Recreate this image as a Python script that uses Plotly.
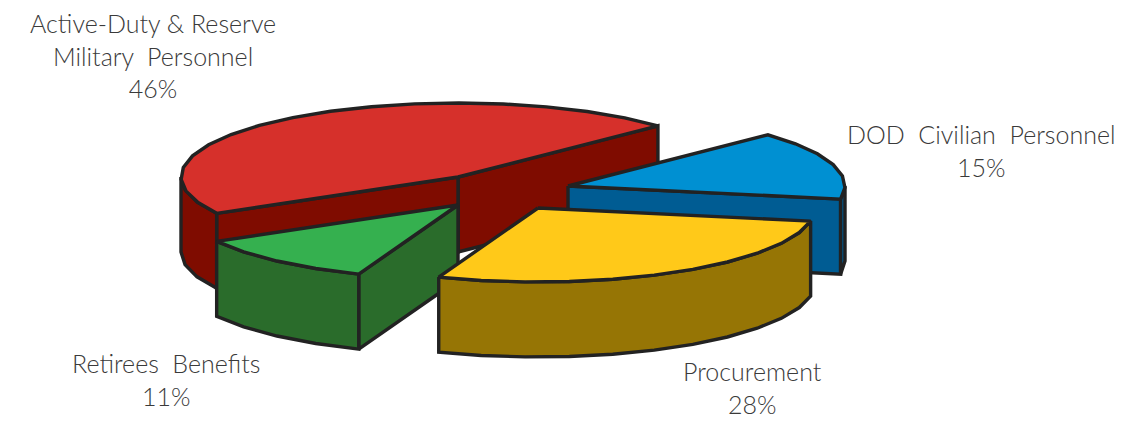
import numpy as np
import plotly.graph_objects as go

# Data
labels = ["Active-Duty\u00a0&amp;\u00a0Reserve<br>Military\u00a0\u00a0Personnel", "DOD\u00a0\u00a0Civilian\u00a0\u00a0Personnel", "Procurement", "Retirees\u00a0\u00a0Benefits"]
values = [46, 15, 28, 11]

# Styles / layout
top_colors = ["#D6302B", "#0090D2", "#FFC919", "#35B04F"]
side_colors = ["#7F0C00", "#005C93", "#967505", "#2A6C2B"]
apexes = [(458, 177), (568, 186), (538, 208), (458, 205)]
label_pos = [(153, 23), (981, 134), (752, 371), (166, 363)]
draw_order = [0, 1, 3, 2]
OUTLINE = "#222222"
RX, RY, DEPTH = 277, 74, 75
START_DEG = 43.8
FACET_DEG = 9

# Slice angular spans from the values, running clockwise from the red slice's right edge
spans = []
for i, v in enumerate(values):
    sweep = v / sum(values) * 360
    if i == 0:
        spans.append((START_DEG, START_DEG + sweep))
        cur = START_DEG
    else:
        spans.append((cur - sweep, cur))
        cur -= sweep


def rim(apex, deg):
    d = np.atleast_1d(np.radians(deg))
    return apex[0] + RX * np.cos(d), apex[1] - RY * np.sin(d)


def arc(apex, lo, hi):
    n = max(2, int(abs(hi - lo) / FACET_DEG) + 1)
    return rim(apex, np.linspace(lo, hi, n))


fig = go.Figure()


def poly(xs, ys, color, name):
    fig.add_trace(go.Scatter(
        x=list(xs), y=list(ys), mode="lines", fill="toself", fillcolor=color,
        line=dict(color=OUTLINE, width=3.4), name=name, hoverinfo="name", showlegend=False,
    ))


for i in draw_order:
    lo, hi = spans[i]
    ap = apexes[i]
    name = labels[i].replace("<br>", " ").replace("&amp;", "&").replace("\u00a0\u00a0", " ").replace("\u00a0", " ")
    # radial cut faces that face the viewer
    for edge, normal in ((lo, lo - 90), (hi, hi + 90)):
        if np.sin(np.radians(normal)) < 0:
            ex, ey = rim(ap, edge)
            poly([ap[0], ex[0], ex[0], ap[0], ap[0]],
                 [ap[1], ey[0], ey[0] + DEPTH, ap[1] + DEPTH, ap[1]],
                 side_colors[i], name)
    # outer wall: the part of the rim in the front half
    for k in (-1, 0, 1):
        a = max(lo, 180 + 360 * k)
        b = min(hi, 360 + 360 * k)
        if b > a:
            ax, ay = arc(ap, a, b)
            poly(np.r_[ax, ax[::-1], ax[0]],
                 np.r_[ay, ay[::-1] + DEPTH, ay[0]],
                 side_colors[i], name)
    # top
    tx, ty = arc(ap, lo, hi)
    poly(np.r_[ap[0], tx, ap[0]], np.r_[ap[1], ty, ap[1]], top_colors[i], name)

for i, (lab, (x, y)) in enumerate(zip(labels, label_pos)):
    txt = lab + f"<br>{values[i]}%"
    fig.add_annotation(x=x, y=y, xref="x", yref="y", text=txt, showarrow=False,
                       xanchor="center", yanchor="top", yshift=17.5,
                       align="center",
                       font=dict(family="Lato", size=25, color="#3a3a3a", weight=300))

fig.update_xaxes(range=[0, 1147], visible=False, fixedrange=True)
fig.update_yaxes(range=[421, 0], visible=False, fixedrange=True)
fig.update_layout(width=1147, height=421, margin=dict(l=0, r=0, t=0, b=0),
                  paper_bgcolor="white", plot_bgcolor="white", showlegend=False)

fig.write_html("out.html", config={"displayModeBar": False},
               post_script="document.body.style.margin='0';")
